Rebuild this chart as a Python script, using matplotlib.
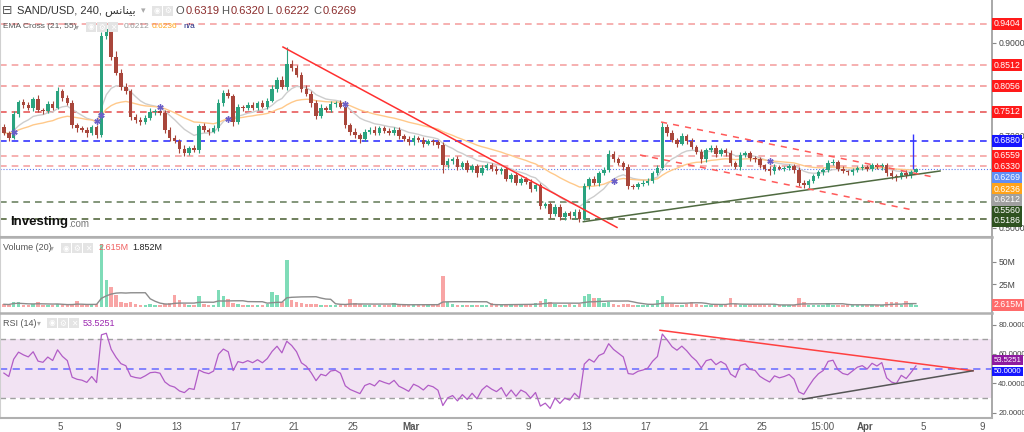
import numpy as np
import pandas as pd
import matplotlib
matplotlib.use('Agg')
import matplotlib.pyplot as plt
from matplotlib.patches import Rectangle

plt.rcParams['font.family'] = ['Liberation Sans', 'DejaVu Sans']

# 8h candles from Feb 1, x = days since Feb 1
first_open = 0.718
closes = [
    0.705, 0.695, 0.745, 0.772, 0.765, 0.760, 0.778, 0.755, 0.752, 0.768,
    0.760, 0.795, 0.780, 0.770, 0.722, 0.715, 0.712, 0.705, 0.718, 0.700,
    0.915, 0.930, 0.870, 0.835, 0.805, 0.795, 0.740, 0.732, 0.728, 0.738,
    0.750, 0.752, 0.748, 0.712, 0.695, 0.688, 0.670, 0.662, 0.672, 0.668,
    0.720, 0.712, 0.708, 0.715, 0.770, 0.792, 0.785, 0.728, 0.762, 0.758,
    0.766, 0.760, 0.770, 0.762, 0.775, 0.800, 0.820, 0.805, 0.855, 0.845,
    0.830, 0.800, 0.790, 0.770, 0.742, 0.760, 0.755, 0.768, 0.770, 0.762,
    0.722, 0.708, 0.700, 0.692, 0.708, 0.712, 0.705, 0.715, 0.710, 0.706,
    0.712, 0.698, 0.692, 0.685, 0.695, 0.690, 0.682, 0.688, 0.685, 0.678,
    0.635, 0.645, 0.648, 0.632, 0.640, 0.626, 0.634, 0.618, 0.630, 0.636,
    0.628, 0.622, 0.627, 0.606, 0.614, 0.598, 0.606, 0.600, 0.585, 0.592,
    0.548, 0.552, 0.530, 0.545, 0.524, 0.532, 0.525, 0.535, 0.520, 0.590,
    0.605, 0.598, 0.618, 0.625, 0.660, 0.648, 0.640, 0.632, 0.590, 0.588,
    0.595, 0.598, 0.602, 0.618, 0.630, 0.718, 0.705, 0.690, 0.682, 0.698,
    0.688, 0.675, 0.665, 0.648, 0.668, 0.672, 0.660, 0.668, 0.662, 0.640,
    0.632, 0.658, 0.662, 0.650, 0.648, 0.635, 0.628, 0.622, 0.632, 0.628,
    0.630, 0.633, 0.625, 0.598, 0.592, 0.602, 0.612, 0.620, 0.625, 0.640,
    0.642, 0.628, 0.622, 0.620, 0.625, 0.630, 0.632, 0.628, 0.635, 0.632,
    0.636, 0.618, 0.612, 0.610, 0.618, 0.614, 0.620, 0.627,
]
# wick lengths above / below the body, in thousandths
hi_wick = [
    6, 4, 8, 5, 6, 7, 5, 9, 4, 5, 6, 9, 5, 6, 7, 4, 5, 6, 5, 4,
    8, 15, 10, 12, 9, 7, 6, 5, 7, 6, 8, 5, 6, 7, 5, 6, 4, 8, 5, 6,
    5, 6, 4, 7, 9, 6, 8, 5, 6, 4, 5, 6, 4, 7, 5, 8, 6, 9, 35, 8,
    7, 6, 8, 5, 6, 7, 4, 6, 5, 6, 6, 5, 7, 4, 6, 5, 7, 4, 6, 5,
    6, 5, 4, 6, 5, 4, 6, 5, 4, 5, 8, 6, 5, 7, 4, 6, 5, 4, 6, 5,
    5, 6, 4, 5, 4, 6, 5, 4, 5, 6, 6, 5, 4, 7, 6, 5, 4, 5, 6, 7,
    6, 8, 5, 7, 8, 6, 5, 4, 6, 5, 4, 5, 6, 5, 6, 10, 7, 6, 5, 6,
    5, 6, 4, 6, 5, 7, 6, 5, 4, 6, 5, 6, 5, 4, 6, 5, 4, 5, 6, 4,
    4, 5, 4, 6, 5, 4, 5, 4, 5, 6, 6, 4, 5, 4, 5, 4, 5, 4, 6, 5,
    4, 5, 6, 4, 5, 6, 4, 3,
]
lo_wick = [
    5, 8, 4, 6, 5, 6, 7, 5, 6, 4, 5, 4, 6, 5, 6, 7, 5, 8, 4, 6,
    4, 6, 7, 5, 8, 6, 7, 6, 5, 4, 5, 6, 4, 6, 7, 5, 8, 6, 5, 4,
    6, 5, 7, 4, 5, 6, 5, 7, 4, 5, 4, 5, 6, 4, 5, 4, 6, 5, 7, 6,
    5, 7, 6, 8, 6, 5, 4, 5, 6, 4, 6, 7, 5, 8, 4, 6, 5, 4, 6, 5,
    5, 6, 4, 5, 6, 5, 7, 4, 5, 6, 16, 5, 6, 7, 5, 6, 5, 7, 4, 5,
    6, 5, 6, 5, 7, 5, 6, 5, 8, 6, 7, 6, 8, 5, 6, 7, 5, 6, 7, 4,
    6, 5, 7, 4, 5, 6, 5, 6, 7, 5, 5, 4, 6, 5, 4, 5, 6, 5, 7, 4,
    6, 5, 6, 7, 5, 4, 6, 5, 6, 7, 5, 6, 4, 5, 6, 5, 6, 7, 5, 4,
    5, 4, 6, 7, 5, 6, 4, 5, 6, 4, 5, 6, 4, 5, 6, 5, 4, 6, 5, 4,
    6, 5, 7, 8, 5, 6, 7, 4,
]
# volume, millions
volume = [
    3.0, 2.5, 6.0, 5.0, 2.5, 2.0, 2.8, 5.0, 2.2, 2.0,
    2.5, 3.5, 2.0, 2.2, 3.0, 6.5, 2.0, 2.5, 2.0, 2.8,
    70, 30, 22, 13, 6, 4, 5, 3, 2.5, 2.2,
    3.0, 2.5, 2.0, 3.5, 4, 13, 7.6, 3, 2.5, 2.2,
    12, 3, 2.5, 2.5, 18.7, 12, 9, 4, 3, 2.5,
    2.5, 2, 2.2, 2.5, 3, 17, 13, 5, 52, 8,
    5, 4, 3, 3.5, 3, 2.5, 2.2, 2, 2.5, 2.2,
    3, 9, 4, 3, 2.5, 2.2, 2, 2.5, 2.2, 2,
    4.7, 2.5, 2.2, 2, 2.5, 2.2, 2, 2.5, 2.2, 3,
    34, 5, 3, 2.5, 2.2, 2, 2.5, 2.2, 2, 2.5,
    4.6, 2.5, 2.2, 3, 2.5, 2.8, 3, 2.5, 3.5, 4,
    7, 9, 6, 3, 2.5, 2.2, 3, 2.5, 3, 12,
    14, 9.6, 10, 4, 5, 3, 2.5, 3.5, 3, 2.5,
    2.2, 2.5, 2.2, 3, 8, 12, 4, 3, 2.5, 2.2,
    3, 6, 3, 2.5, 2.2, 2, 2.5, 2.2, 2.5, 9.5,
    3, 2.5, 2.2, 2, 2.5, 2.2, 2, 2.5, 2.2, 2,
    2.5, 2.2, 2.5, 10, 6, 2.5, 2.2, 2, 2.5, 4,
    2.5, 2.2, 2, 2.5, 2.2, 2, 2.5, 2.2, 2, 2.5,
    2.2, 5, 6, 5, 2.5, 7, 3, 2.6,
]

# horizontal levels: value, line colour, tag colour
levels = [0.9404, 0.8512, 0.8056, 0.7512, 0.6880, 0.6559, 0.6330, 0.5560, 0.5186]
level_line = ['#f5a3a3', '#f5a3a3', '#f29a9a', '#e85a5a', '#3434ff',
              '#f5a3a3', '#f5a3a3', '#6e8463', '#55683f']
level_tag = ['#ff1a1a', '#ff1a1a', '#ff1a1a', '#ff1a1a', '#1515ff',
             '#ff1a1a', '#ff1a1a', '#2f5220', '#2f5220']
level_tag_y = [0.9404, 0.8512, 0.8056, 0.7512, 0.6880, 0.6559, 0.6322, 0.5371, 0.5156]
last_price = 0.6269
ema_fast_last, ema_slow_last = 0.6212, 0.6236

# drawings (day, price)
down_trend = [(19.24, 0.8907), (42.07, 0.501)]
up_trend = [(39.77, 0.5134), (64.15, 0.6229)]
chan_upper = [(45.08, 0.7287), (63.67, 0.610)]
chan_lower = [(43.64, 0.6575), (62.30, 0.5387)]
spike = (62.30, 0.627, 0.703)
rsi_red = [(45.01, 76.1), (66.4, 48.5)]
rsi_dark = [(54.76, 29.1), (66.4, 48.5)]

date_pos = [4, 8, 12, 16, 20, 24, 28, 32, 36, 40, 44, 48, 52, 56.1, 59, 63, 67]
date_lab = ['5', '9', '13', '17', '21', '25', 'Mar', '5', '9', '13', '17', '21', '25',
            '15:00', 'Apr', '5', '9']

UP, DN = '#2aa37f', '#a8463b'
W, H = 1024, 432
fig = plt.figure(figsize=(W / 100, H / 100), dpi=100)


def frame(top, bottom):
    return [0.0, 1 - bottom / H, 992 / W, (bottom - top) / H]


ax = fig.add_axes(frame(0, 236.7))
axv = fig.add_axes(frame(237.3, 311.7), sharex=ax)
axr = fig.add_axes(frame(312.5, 418.3), sharex=ax)

c = np.array(closes)
o = np.r_[first_open, c[:-1]]
t = np.arange(len(c)) / 3 + 1 / 6
hi = np.maximum(o, c) + np.array(hi_wick) / 1000
lo = np.minimum(o, c) - np.array(lo_wick) / 1000
up = c >= o
col = np.where(up, UP, DN)


def tag(a, y, s, fc, size=6.3):
    a.text(1.0015, y, s, transform=a.get_yaxis_transform(), color='white',
           fontsize=size, va='center', ha='left', clip_on=False, zorder=6,
           bbox=dict(boxstyle='square,pad=0.18', fc=fc, ec='none'))


# price panel
for v, lc in zip(levels, level_line):
    ax.axhline(v, color=lc, lw=1.2, ls=(0, (4, 3)), zorder=1)
ax.axhline(last_price, color='#5f7df0', lw=0.8, ls=':', zorder=1)

ema_f = pd.Series(c).ewm(span=11, adjust=False).mean().values
ema_s = pd.Series(c).ewm(span=28, adjust=False).mean().values
ax.plot(t, ema_f, color='#cdcdcd', lw=1, zorder=2)
ax.plot(t, ema_s, color='#ffc98a', lw=1, zorder=2)
d = np.sign(ema_f - ema_s)
cross = np.where(d[1:] != d[:-1])[0] + 1
ax.plot(t[cross[1:]], ema_s[cross[1:]], ls='none', marker=(6, 2, 0), ms=4.5,
        color='#6b5fc8', mew=1, zorder=4)

ax.vlines(t, lo, hi, colors=col, lw=0.8, zorder=3)
ax.bar(t, np.maximum(np.abs(c - o), 0.0015), bottom=np.minimum(o, c),
       width=0.24, color=col, lw=0, zorder=3)
ax.vlines(spike[0], spike[1], spike[2], color='#3434ff', lw=1, zorder=4)

ax.plot(*zip(*down_trend), color='#ff3030', lw=1.1, zorder=4)
ax.plot(*zip(*up_trend), color='#4f6a40', lw=1.1, zorder=4)
ax.plot(*zip(*chan_upper), color='#ff5a5a', lw=1.1, ls=(0, (4, 4)), zorder=4)
ax.plot(*zip(*chan_lower), color='#ff5a5a', lw=1.1, ls=(0, (4, 4)), zorder=4)

ax.set_ylim(0.481, 0.9922)
ax.set_yticks(np.arange(0.5, 0.96, 0.05))
ax.set_yticklabels(['%.4f' % v if round(v, 2) in (0.5, 0.7, 0.9) else ''
                    for v in np.arange(0.5, 0.96, 0.05)])

tags = list(zip(levels, level_tag, level_tag_y))
tags += [(last_price, '#5f8ef5', 0.6084), (ema_slow_last, '#ffa31a', 0.5840),
         (ema_fast_last, '#a0a0a0', 0.5603)]
for v, tc, ty in tags:
    tag(ax, ty, '%.4f' % v, tc)

# volume panel
vcol = np.where(up, '#7fdcb8', '#f8a5a5')
axv.bar(t, volume, width=0.24, color=vcol, lw=0)
vma = pd.Series(volume).rolling(10, min_periods=1).mean()
axv.plot(t, vma, color='#8c8c8c', lw=1)
axv.set_ylim(-5.2, 77.1)
axv.set_yticks([25, 50])
axv.set_yticklabels(['25M', '50M'])
tag(axv, 2.615, '2.615M', '#ff6b6b')

# rsi panel (Wilder smoothing, started from a neutral value)
period = 12
delta = np.diff(c, prepend=first_open)
ag = al = np.abs(delta[:period]).mean() / 2
rsi = []
for x in delta:
    ag = (ag * (period - 1) + max(x, 0)) / period
    al = (al * (period - 1) + max(-x, 0)) / period
    rsi.append(100 - 100 / (1 + ag / al))
axr.axhspan(30, 70, color='#f2e3f3', lw=0)
axr.axhline(70, color='#a0a0a0', lw=1, ls=(0, (4, 3)))
axr.axhline(30, color='#a0a0a0', lw=1, ls=(0, (4, 3)))
axr.axhline(50, color='#7b7bff', lw=1.3, ls=(0, (4, 3)))
axr.plot(t, rsi, color='#b15cc6', lw=0.9)
axr.plot(*zip(*rsi_red), color='#ff4040', lw=1.1)
axr.plot(*zip(*rsi_dark), color='#555555', lw=1.1)
axr.set_ylim(16.1, 88.2)
axr.set_yticks([20, 40, 60, 80])
axr.set_yticklabels(['%.4f' % v for v in [20, 40, 60, 80]])
tag(axr, 55.8, '53.5251', '#8e1aa0', 5.6)
tag(axr, 48.0, '50.0000', '#1515ff', 5.6)

axr.set_xlim(-0.1, 67.7)
axr.set_xticks(date_pos)
axr.set_xticklabels(date_lab)
for lab in axr.get_xticklabels():
    if lab.get_text() in ('Mar', 'Apr'):
        lab.set_fontweight('bold')

for a in (ax, axv, axr):
    a.yaxis.tick_right()
    a.tick_params(axis='y', labelsize=6.2, labelcolor='#444444', length=3,
                  color='#888888', pad=1.5)
    a.tick_params(axis='x', length=0, labelsize=7, labelcolor='#555555', pad=3)
    a.spines['right'].set_color('#9a9a9a')
    a.spines['right'].set_linewidth(1.2)
    a.spines['left'].set_color('#d0d0d0')
    a.spines['top'].set_color('#b0b0b0')
    a.spines['top'].set_linewidth(1.8)
    a.spines['bottom'].set_color('#b0b0b0')
    a.spines['bottom'].set_linewidth(1.5)
axr.tick_params(axis='y', labelsize=5.6)
ax.spines['top'].set_visible(False)
axv.spines['bottom'].set_visible(False)
ax.tick_params(axis='x', labelbottom=False)
axv.tick_params(axis='x', labelbottom=False)


# header texts (pixel positions)
def ftxt(x, y, s, **kw):
    kw.setdefault('fontsize', 8)
    kw.setdefault('color', '#333333')
    fig.text(x / W, 1 - y / H, s, va='center', ha='left', **kw)


def icons(x0, y, syms=('\u25c9', '\u2699', '\u2715')):
    for k, sym in enumerate(syms):
        fig.add_artist(Rectangle(((x0 + 11 * k) / W, 1 - (y + 5) / H), 9.5 / W, 10 / H,
                                 transform=fig.transFigure, fc='#e4e4e4', ec='none'))
        fig.text((x0 + 11 * k + 4.75) / W, 1 - y / H, sym, fontsize=5.5, color='white',
                 ha='center', va='center', family='DejaVu Sans')


ftxt(2, 10, '\u229f', fontsize=9, color='#555555', family='DejaVu Sans')
ftxt(17, 10.5, 'SAND/USD, 240, \ufeb2\ufee7\ufe8e\ufee8\ufef4\ufe91', fontsize=8)
ftxt(141, 10.5, '\u25be', fontsize=6.5, color='#aaaaaa', family='DejaVu Sans')
icons(152, 10.5, ('\u25c9', '\u2699'))
for x, letter, num in [(176, 'O', '0.6319'), (221, 'H', '0.6320'),
                       (266, 'L', '0.6222'), (313, 'C', '0.6269')]:
    ftxt(x, 10.5, letter, fontsize=8, color='#555555')
    ftxt(x + 9.5, 10.5, num, fontsize=8, color='#8b2c2c')

ftxt(3, 27, 'EMA Cross (21, 55)', fontsize=6, color='#555555')
ftxt(75, 27, '\u25be', fontsize=5.5, color='#aaaaaa', family='DejaVu Sans')
icons(86, 27)
ftxt(124, 27, '0.6212', fontsize=6, color='#9a9a9a')
ftxt(152, 27, '0.6236', fontsize=6, color='#ffa31a')
ftxt(183, 27, 'n/a', fontsize=6, color='#1a237e')

ftxt(10, 222, 'Investing', fontsize=9.5, fontweight='bold', color='#111111')
ftxt(68, 224, '.com', fontsize=7, color='#777777')

ftxt(3, 248, 'Volume (20)', fontsize=6.5, color='#555555')
ftxt(50, 248, '\u25be', fontsize=5.5, color='#aaaaaa', family='DejaVu Sans')
icons(61, 248)
ftxt(99, 248, '2.615M', fontsize=6.5, color='#f06060')
ftxt(132, 248, '1.852M', fontsize=6.5, color='#222222')

ftxt(3, 323, 'RSI (14)', fontsize=6.5, color='#555555')
ftxt(37, 323, '\u25be', fontsize=5.5, color='#aaaaaa', family='DejaVu Sans')
icons(47, 323)
ftxt(83, 323, '53.5251', fontsize=6.5, color='#9c27b0')

fig.savefig('out.png', dpi=100, facecolor='white')
